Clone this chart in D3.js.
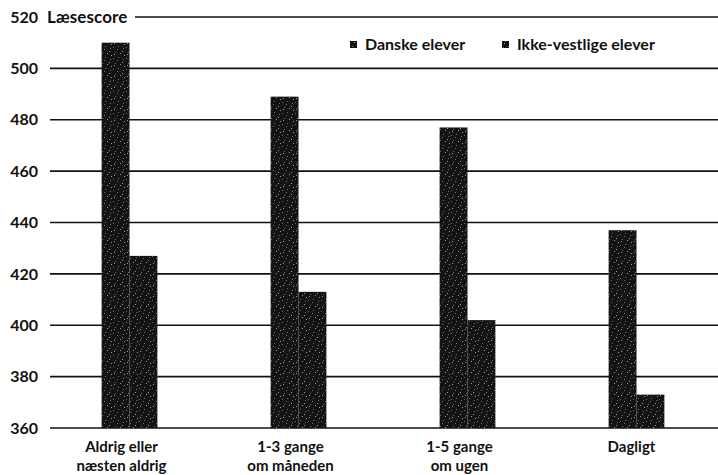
<!DOCTYPE html>
<html><head><meta charset="utf-8">
<script src="https://cdn.jsdelivr.net/npm/d3@7"></script>
<style>
html,body{margin:0;padding:0;background:#fff;}
svg text{font-family:Lato,"Open Sans",sans-serif;font-weight:700;fill:#111;}
</style></head>
<body><svg id="c" width="718" height="475"></svg>
<script>
const categories = [["Aldrig eller","næsten aldrig"],["1-3 gange","om måneden"],["1-5 gange","om ugen"],["Dagligt"]];
const seriesNames = ["Danske elever","Ikke-vestlige elever"];
const danske = [510, 489, 477, 437];
const ikkeVestlige = [427, 413, 402, 373];
const yTicks = [360, 380, 400, 420, 440, 460, 480, 500, 520];
const yTitle = "Læsescore";

const svg = d3.select("#c");
const defs = svg.append("defs");
const pat = defs.append("pattern").attr("id","speck").attr("patternUnits","userSpaceOnUse").attr("width",13).attr("height",11);
pat.append("rect").attr("width",13).attr("height",11).attr("fill","#141414");
[[1,2],[5,7],[9,3],[3,9],[11,8],[7,0],[0,5],[10,10],[6,4]].forEach(([x,y],i)=>{
  pat.append("rect").attr("x",x).attr("y",y).attr("width",1).attr("height",1).attr("fill", i%2?"#9a9a9a":"#6a6a6a");
});

const y = d3.scaleLinear().domain([360,520]).range([428,17]);
const x0 = d3.scaleBand().domain(d3.range(categories.length)).range([45,721]).paddingInner(0.67).paddingOuter(0.335);
const x1 = d3.scaleBand().domain([0,1]).range([0, x0.bandwidth()]);

// gridlines
const grid = svg.append("g");
yTicks.forEach(t=>{
  grid.append("line").attr("x1", t===520?135:50).attr("x2",718)
    .attr("y1",y(t)).attr("y2",y(t)).attr("stroke","#111").attr("stroke-width",1.6);
});
// y axis labels
const yAxis = d3.axisLeft(y).tickValues(yTicks).tickSize(0).tickPadding(0);
const ya = svg.append("g").attr("transform","translate(38,0)").call(yAxis);
ya.select(".domain").remove();
ya.selectAll("text").attr("font-size",16).style("font-family","Lato,sans-serif").style("font-weight",700).attr("fill","#111");
svg.append("text").attr("x",47).attr("y",y(520)+5.5).attr("font-size",17).attr("letter-spacing",0.1).text(yTitle);

// bars
const data = categories.map((c,i)=>[danske[i], ikkeVestlige[i]]);
const g = svg.append("g");
data.forEach((vals,i)=>{
  vals.forEach((v,j)=>{
    g.append("rect").attr("x", x0(i)+x1(j)).attr("width", x1.bandwidth())
      .attr("y", y(v)).attr("height", y(360)-y(v)).attr("fill","url(#speck)");
  });
});

// category labels
categories.forEach((lines,i)=>{
  const cx = x0(i)+x0.bandwidth()/2 - (i<3?8:5);
  lines.forEach((l,k)=>{
    svg.append("text").attr("x",cx).attr("y",452+k*19).attr("text-anchor","middle").attr("font-size",15).text(l);
  });
});

// legend
const legX = [350, 502];
seriesNames.forEach((n,i)=>{
  svg.append("rect").attr("x",legX[i]).attr("y",41).attr("width",7).attr("height",7).attr("fill","url(#speck)");
  svg.append("text").attr("x",legX[i]+15).attr("y",50).attr("font-size",16).text(n);
});
</script></body></html>
